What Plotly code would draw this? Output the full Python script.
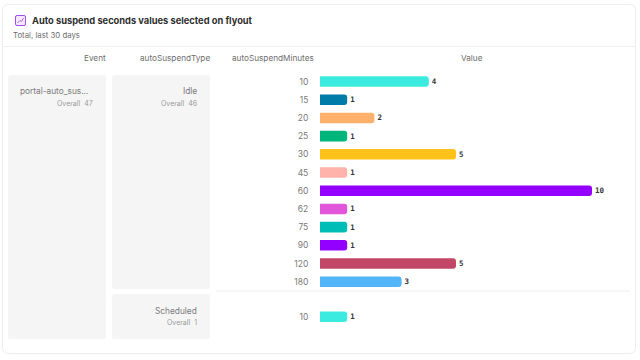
import plotly.graph_objects as go

minutes = ["10","15","20","25","30","45","60","62","75","90","120","180","10"]
values = [4,1,2,1,5,1,10,1,1,1,5,3,1]
colors = ["#3BEBE0","#007CA8","#FFB06B","#00B57A","#FFC21A","#FFB3AB","#9400FF","#E055D9","#00BDB5","#9400FF","#C24767","#52B5FA","#3BEBE0"]
rows = [0,1,2,3,4,5,6,7,8,9,10,11,12.92]

W,H = 640,360
def px(x): return x/W
def py(y): return 1-y/H
def rrect(x0,y0,x1,y1,r):
    return (f"M{px(x0+r)},{py(y0)} L{px(x1-r)},{py(y0)} Q{px(x1)},{py(y0)} {px(x1)},{py(y0+r)} "
            f"L{px(x1)},{py(y1-r)} Q{px(x1)},{py(y1)} {px(x1-r)},{py(y1)} L{px(x0+r)},{py(y1)} "
            f"Q{px(x0)},{py(y1)} {px(x0)},{py(y1-r)} L{px(x0)},{py(y0+r)} Q{px(x0)},{py(y0)} {px(x0+r)},{py(y0)} Z")

shapes = [
    dict(type="path",xref="paper",yref="paper",path=rrect(2.5,4.5,635.5,353.5,6),line=dict(color="#EDEDED",width=1),fillcolor="white",layer="below"),
    dict(type="line",xref="paper",yref="paper",x0=px(3),x1=px(635),y0=py(46.5),y1=py(46.5),line=dict(color="#EFEFEF",width=1),layer="below"),
    dict(type="line",xref="paper",yref="paper",x0=px(216),x1=px(630),y0=py(291),y1=py(291),line=dict(color="#F3F3F3",width=1.5),layer="below"),
]
for b in [(8,75,106,339),(112,75,210,289),(112,294,210,339)]:
    shapes.append(dict(type="path",xref="paper",yref="paper",path=rrect(*b,2.5),line=dict(width=0),fillcolor="#F5F5F5",layer="below"))
shapes.append(dict(type="path",xref="paper",yref="paper",path=rrect(15.5,15.5,25.5,25.5,1.5),line=dict(color="#A24DF0",width=1),fillcolor="#F3E8FD",layer="below"))
shapes.append(dict(type="path",xref="paper",yref="paper",
    path=f"M{px(17.5)},{py(23)} L{px(20)},{py(20.5)} L{px(21.5)},{py(21.5)} L{px(23.5)},{py(18)}",line=dict(color="#A24DF0",width=0.8)))

def label(x,y,t,size,color,anchor="left",family="Inter",bold=False):
    shift = {"left":-2,"right":2,"center":0}[anchor]
    return dict(xref="paper",yref="paper",x=px(x+shift),y=py(y),text=f"<b>{t}</b>" if bold else t,showarrow=False,
                xanchor=anchor,yanchor="middle",font=dict(size=size,color=color,family=family))

ann = [
    label(32,20,"Auto suspend seconds values selected on flyout",9.3,"#2E2E2E",bold=True),
    label(13,35.5,"Total, last 30 days",7.8,"#6E6E6E"),
    label(106,58,"Event",8.2,"#6E6E6E","right"),
    label(210,58,"autoSuspendType",8.2,"#6E6E6E","right"),
    label(314,58,"autoSuspendMinutes",8.2,"#6E6E6E","right"),
    label(472,58,"Value",8.2,"#6E6E6E","center"),
    label(20,91,"portal-auto_sus...",8.3,"#7A7A7A"),
    label(93,103.5,"Overall&nbsp;&nbsp;47",7,"#9A9A9A","right"),
    label(197,91,"Idle",8.3,"#7A7A7A","right"),
    label(197,103.5,"Overall&nbsp;&nbsp;46",7,"#9A9A9A","right"),
    label(197,310.5,"Scheduled",8.3,"#7A7A7A","right"),
    label(197,322.5,"Overall&nbsp;&nbsp;1",7,"#9A9A9A","right"),
]

fig = go.Figure(go.Bar(
    x=values,y=rows,orientation="h",marker=dict(color=colors,line=dict(width=0)),width=0.58,
    text=[str(v) for v in values],textposition="outside",cliponaxis=False,
    textfont=dict(family="DejaVu Sans Mono",size=7.5,color="#333333",weight="bold"),hoverinfo="skip"))
fig.update_layout(
    width=W,height=H,autosize=False,margin=dict(l=0,r=0,t=0,b=0),paper_bgcolor="white",plot_bgcolor="rgba(0,0,0,0)",
    showlegend=False,barcornerradius=3,shapes=shapes,annotations=ann,
    font=dict(family="Inter"),
    xaxis=dict(domain=[px(320),px(592)],range=[0,10],showgrid=False,zeroline=False,showline=False,showticklabels=False,ticks=""),
    yaxis=dict(domain=[0,1],range=[15.30,-4.48],tickmode="array",tickvals=rows,ticktext=minutes,showgrid=False,zeroline=False,showline=False,
               ticks="outside",ticklen=9,tickcolor="rgba(0,0,0,0)",tickfont=dict(size=8.5,color="#7A7A7A",family="Inter")),
)
fig.write_html("out.html",config=dict(displayModeBar=False),
               post_script="document.body.style.margin='0';document.body.style.overflow='hidden';")
